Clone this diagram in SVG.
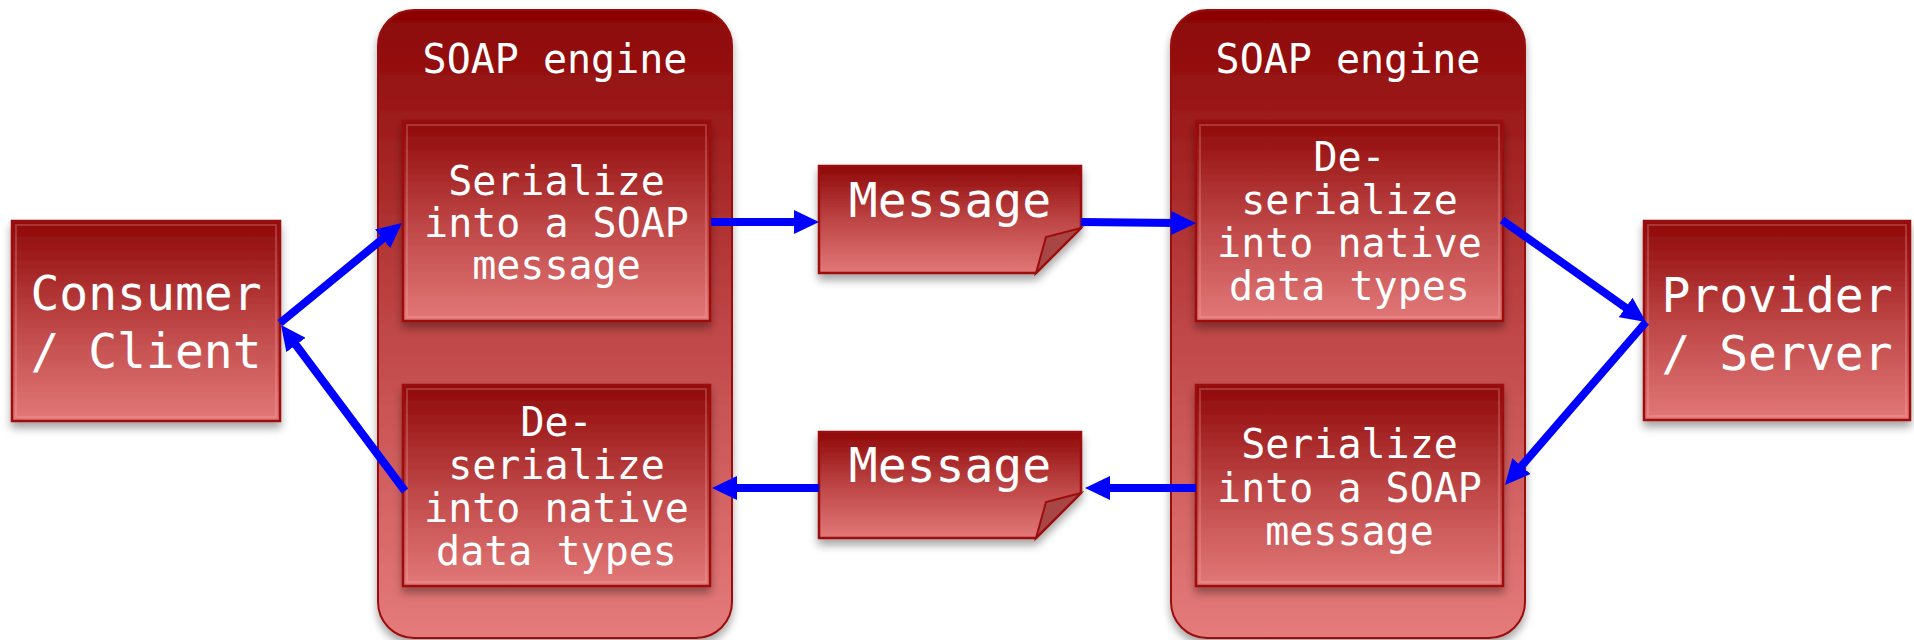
<svg xmlns="http://www.w3.org/2000/svg" width="1914" height="640" viewBox="0 0 1914 640">
  <defs>
    <linearGradient id="gEngine" x1="0" y1="0" x2="0" y2="1">
      <stop offset="0" stop-color="#8b0404"/>
      <stop offset="0.45" stop-color="#bb4040"/>
      <stop offset="1" stop-color="#e57b7b"/>
    </linearGradient>
    <linearGradient id="gBox" x1="0" y1="0" x2="0" y2="1">
      <stop offset="0" stop-color="#8f0808"/>
      <stop offset="0.5" stop-color="#bd4444"/>
      <stop offset="1" stop-color="#e27878"/>
    </linearGradient>
    <filter id="shadow" x="-10%" y="-10%" width="120%" height="130%">
      <feDropShadow dx="0" dy="6" stdDeviation="4" flood-color="#000" flood-opacity="0.35"/>
    </filter>
    <marker id="arrow" viewBox="0 0 25 24" markerWidth="25" markerHeight="24" refX="5" refY="12" orient="auto" markerUnits="userSpaceOnUse">
      <path d="M0,0 L25,12 L0,24 Z" fill="#0000ff"/>
    </marker>
    <style>
      .engine { fill: url(#gEngine); stroke: #9a0c0c; stroke-width: 2; filter: url(#shadow); }
      .box { fill: url(#gBox); stroke: #9c0c0c; stroke-width: 2.5; filter: url(#shadow); }
      .gloss { fill: none; stroke: #ffb0b0; stroke-opacity: 0.25; stroke-width: 2; }
      .flap { fill: #a84646; stroke: #9c0c0c; stroke-width: 2; }
      .txt { font-family: "DejaVu Sans Mono", "Liberation Mono", monospace; fill: #ffffff; text-anchor: middle; }
      .t40 { font-size: 40px; }
      .t48 { font-size: 48px; }
      .conn { stroke: #0000ff; stroke-width: 8; fill: none; marker-end: url(#arrow); }
    </style>
  </defs>

  <rect width="1914" height="640" fill="#ffffff"/>

  <!-- client -->
  <g id="consumer">
    <rect class="box" x="12" y="221" width="268" height="200"/>
    <rect class="gloss" x="16" y="225" width="260" height="192"/>
    <text class="txt t48" x="146" y="310">Consumer</text>
    <text class="txt t48" x="146" y="368">/ Client</text>
  </g>

  <!-- client-side engine -->
  <g id="engine-left">
    <rect class="engine" x="378" y="10" width="354" height="628" rx="36" ry="36"/>
    <text class="txt t40" x="555" y="73">SOAP engine</text>
  </g>
  <g id="serialize-left">
    <rect class="box" x="403" y="121" width="307" height="200"/>
    <rect class="gloss" x="407" y="125" width="299" height="192"/>
    <text class="txt t40" x="556.5" y="195">Serialize</text>
    <text class="txt t40" x="556.5" y="237">into a SOAP</text>
    <text class="txt t40" x="556.5" y="279">message</text>
  </g>
  <g id="deserialize-left">
    <rect class="box" x="403" y="385" width="307" height="201"/>
    <rect class="gloss" x="407" y="389" width="299" height="193"/>
    <text class="txt t40" x="556.5" y="436">De-</text>
    <text class="txt t40" x="556.5" y="479">serialize</text>
    <text class="txt t40" x="556.5" y="522">into native</text>
    <text class="txt t40" x="556.5" y="565">data types</text>
  </g>

  <!-- messages on the wire -->
  <g id="message-request">
    <path class="box" d="M819,166 H1081 V228 L1036,273 H819 Z"/>
    <path class="flap" d="M1081,228 L1046,237 L1036,273 Z"/>
    <text class="txt t48" x="950" y="217">Message</text>
  </g>
  <g id="message-response">
    <path class="box" d="M819,432 H1081 V493 L1036,538 H819 Z"/>
    <path class="flap" d="M1081,493 L1046,502 L1036,538 Z"/>
    <text class="txt t48" x="950" y="482">Message</text>
  </g>

  <!-- server-side engine -->
  <g id="engine-right">
    <rect class="engine" x="1171" y="10" width="354" height="628" rx="36" ry="36"/>
    <text class="txt t40" x="1348" y="73">SOAP engine</text>
  </g>
  <g id="deserialize-right">
    <rect class="box" x="1196" y="121" width="307" height="200"/>
    <rect class="gloss" x="1200" y="125" width="299" height="192"/>
    <text class="txt t40" x="1349.5" y="171">De-</text>
    <text class="txt t40" x="1349.5" y="214">serialize</text>
    <text class="txt t40" x="1349.5" y="257">into native</text>
    <text class="txt t40" x="1349.5" y="300">data types</text>
  </g>
  <g id="serialize-right">
    <rect class="box" x="1196" y="385" width="307" height="201"/>
    <rect class="gloss" x="1200" y="389" width="299" height="193"/>
    <text class="txt t40" x="1349.5" y="458">Serialize</text>
    <text class="txt t40" x="1349.5" y="502">into a SOAP</text>
    <text class="txt t40" x="1349.5" y="545">message</text>
  </g>

  <!-- server -->
  <g id="provider">
    <rect class="box" x="1644" y="221" width="266" height="199"/>
    <rect class="gloss" x="1648" y="225" width="258" height="191"/>
    <text class="txt t48" x="1777" y="312">Provider</text>
    <text class="txt t48" x="1777" y="370">/ Server</text>
  </g>

  <!-- flow -->
  <g id="connectors">
    <line class="conn" x1="280" y1="323" x2="386.5" y2="235.7"/>
    <line class="conn" x1="711" y1="222" x2="799" y2="222"/>
    <line class="conn" x1="1081" y1="222" x2="1176" y2="223"/>
    <line class="conn" x1="1502" y1="220" x2="1629.7" y2="310.4"/>
    <line class="conn" x1="1646" y1="322" x2="1518.1" y2="469.9"/>
    <line class="conn" x1="1196" y1="488" x2="1105" y2="488"/>
    <line class="conn" x1="819" y1="488" x2="732" y2="488"/>
    <line class="conn" x1="405" y1="491" x2="293" y2="341"/>
  </g>
</svg>
